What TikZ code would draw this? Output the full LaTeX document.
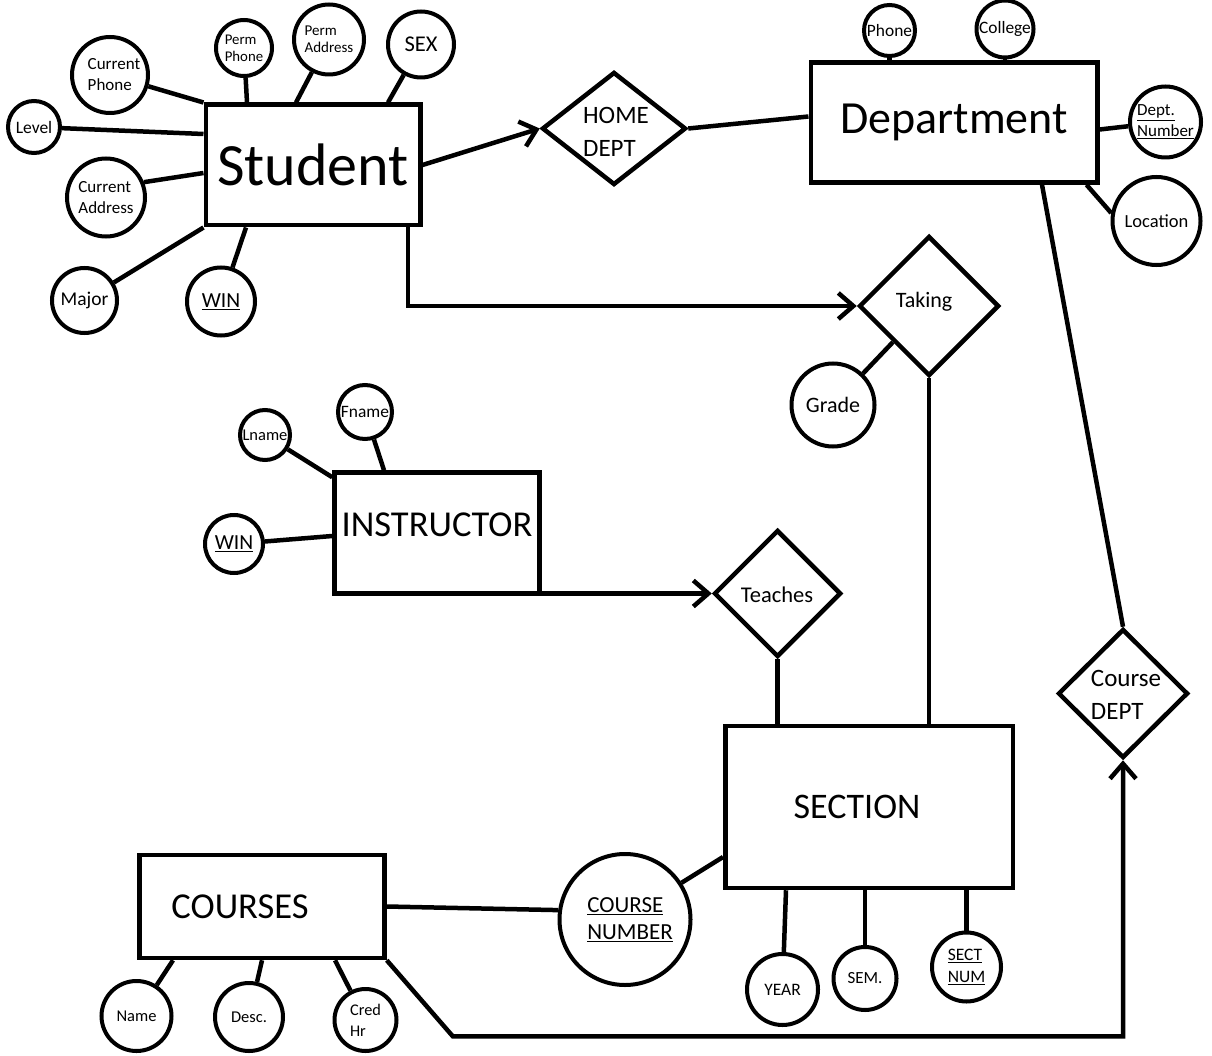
\documentclass[tikz,border=0pt]{standalone}
\usepackage{fontspec}
\setmainfont{Carlito}
\usetikzlibrary{shapes.geometric,arrows.meta}
\begin{document}
\begin{tikzpicture}[x=1pt,y=-1pt,
  ent/.style={draw,line width=4.5pt,rectangle,inner sep=0pt},
  att/.style={draw,line width=4pt,circle,inner sep=0pt,align=left},
  rel/.style={draw,line width=4.5pt,diamond,inner sep=0pt},
  lbl/.style={inner sep=0pt,align=left},
  con/.style={line width=4.5pt},
  arr/.style={con,-{Straight Barb[length=15pt,width=26pt]}},
  fs/.style 2 args={font=\fontsize{#1}{#2}\selectfont}
]
\fill[white] (0,0) rectangle (1212,1056);
\useasboundingbox (0,0) rectangle (1212,1056);

% entities
\node[ent,minimum width=214.5pt,minimum height=120.5pt,fs={60}{72}] (student) at (313,165) {Student};
\node[ent,minimum width=286.5pt,minimum height=120pt,fs={46}{55}] (dept) at (954,122.5) {Department};
\node[ent,minimum width=205pt,minimum height=121pt,fs={36.5}{44},text depth=17pt] (instr) at (437,533) {INSTRUCTOR};
\node[ent,minimum width=287.5pt,minimum height=162pt,fs={36}{43}] (section) at (869,807) {SECTION\hspace*{24pt}};
\node[ent,minimum width=245pt,minimum height=103pt,fs={36.5}{44}] (courses) at (262,906.5) {COURSES\hspace*{44pt}};

% relationships
\node[rel,minimum width=144pt,minimum height=113pt] (home) at (614,128.5) {};
\node[lbl,fs={25}{33}] (homet) at (616,131.5) {HOME\\DEPT};
\node[rel,minimum width=140pt,minimum height=140pt] (taking) at (929,306) {};
\node[lbl,fs={22}{27}] (takingt) at (924,302) {Taking};
\node[rel,minimum width=127pt,minimum height=127pt] (teaches) at (777.5,593.5) {};
\node[lbl,fs={22.5}{27}] (teachest) at (777,595) {Teaches};
\node[rel,minimum width=130pt,minimum height=129pt] (cdept) at (1123,693.5) {};
\node[lbl,fs={25}{33}] (cdeptt) at (1126,694.5) {Course\\DEPT};

% attributes
\node[att,minimum size=76pt,fs={17}{21}] (cphone) at (110,75) {\hspace*{8pt}Current\\\hspace*{8pt}Phone};
\node[att,minimum size=56pt,fs={14.8}{17}] (pphone) at (244,48) {Perm\\Phone};
\node[att,minimum size=70pt,fs={15}{17}] (paddr) at (329,39.5) {Perm\\Address};
\node[att,minimum size=66pt,fs={22.5}{27}] (sex) at (421,44.5) {SEX};
\node[att,minimum size=52pt,fs={17.5}{21}] (level) at (34,127) {Level};
\node[att,minimum size=78pt,fs={17}{21}] (caddr) at (106,197.5) {Current\\Address};
\node[att,minimum size=65pt,fs={19.5}{23}] (major) at (84.5,300.5) {Major};
\node[att,minimum size=68pt,fs={21.5}{26}] (swin) at (221,301.5) {\underline{WIN}};
\node[att,minimum size=51pt,fs={17.4}{21}] (dphone) at (889.5,30.5) {Phone};
\node[att,minimum size=57pt,fs={17.4}{21}] (college) at (1005,29) {College};
\node[att,minimum size=71pt,fs={17}{21}] (dnum) at (1165.5,122) {\underline{Dept.}\\\underline{Number}};
\node[att,minimum size=88pt,fs={18.5}{22}] (loc) at (1156.5,221) {Location};
\node[att,minimum size=83pt,fs={22}{26}] (grade) at (833,405) {Grade};
\node[att,minimum size=50pt,fs={16.5}{20}] (lname) at (265,435) {Lname};
\node[att,minimum size=54pt,fs={17.4}{21}] (fname) at (365,412) {Fname};
\node[att,minimum size=58pt,fs={21.5}{26}] (iwin) at (234,544) {\underline{WIN}};
\node[att,minimum size=131pt,fs={23}{27}] (cnum) at (625,919.5) {\hspace*{10pt}\underline{COURSE}\\\hspace*{10pt}\underline{NUMBER}};
\node[att,minimum size=71pt,fs={17.5}{21}] (year) at (782.5,989.5) {YEAR};
\node[att,minimum size=63pt,fs={17}{21}] (sem) at (865,978.5) {SEM.};
\node[att,minimum size=69pt,fs={17.5}{22}] (sectnum) at (966.5,967) {\underline{SECT}\\\underline{NUM}};
\node[att,minimum size=70pt,fs={16.5}{20}] (cname) at (136.5,1016) {Name};
\node[att,minimum size=68pt,fs={16.5}{20}] (desc) at (249,1017) {Desc.};
\node[att,minimum size=62pt,fs={16.3}{21}] (cred) at (365.5,1020) {Cred\\Hr};

% connectors: student
\draw[con] (cphone) -- (student.north west);
\draw[con] (pphone) -- ([xshift=-66pt]student.north);
\draw[con] (paddr) -- ([xshift=-17pt]student.north);
\draw[con] (sex) -- ([xshift=75pt]student.north);
\draw[con] (level) -- ([yshift=31pt]student.west);
\draw[con] (caddr.22) -- ([yshift=-8pt]student.west);
\draw[con] (major) -- (student.south west);
\draw[con] (swin) -- ([xshift=-67pt]student.south);
\draw[arr] (student.east) -- (home.west);
\draw[con] (home.east) -- ([yshift=6pt]dept.west);
\draw[arr] ([xshift=95pt]student.south) |- (taking.west);
% taking
\draw[con] (grade) -- (taking.south west);
\draw[con] (taking.south) -- (taking.south |- section.north);
% department
\draw[con] (dphone) -- (dphone |- dept.north);
\draw[con] (college) -- (college |- dept.north);
\draw[con] ([yshift=-7pt]dept.east) -- (dnum);
\draw[con] ([xshift=-13pt]dept.south east) -- (loc.170);
\draw[con] ([xshift=88pt]dept.south) -- (cdept.north);
% instructor
\draw[con] (lname) -- ([yshift=-7pt]instr.north west);
\draw[con] (fname) -- ([xshift=-53pt]instr.north);
\draw[con] (iwin) -- ([yshift=-3pt]instr.west);
\draw[arr] (teaches.west -| instr.east) -- (teaches.west);
\draw[con] (teaches.south) -- (teaches.south |- section.north);
% section / courses
\draw[con] (courses.east) -- (cnum.172);
\draw[con] (cnum.33) -- ([yshift=-50pt]section.west);
\draw[con] (year) -- ([xshift=-83pt]section.south);
\draw[con] (sem) -- (sem |- section.south);
\draw[con] (sectnum) -- (sectnum |- section.south);
\draw[con] (cname) -- ([xshift=-89pt]courses.south);
\draw[con] (desc) -- (courses.south);
\draw[con] (cred) -- ([xshift=73pt]courses.south);
\draw[arr] (courses.south east) -- ++(66,76) -| (cdept.south);
\end{tikzpicture}
\end{document}
